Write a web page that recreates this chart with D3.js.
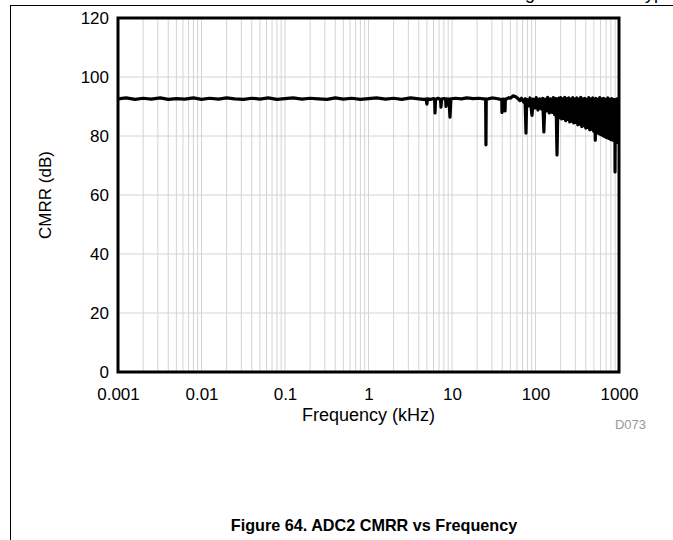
<!DOCTYPE html>
<html>
<head>
<meta charset="utf-8">
<script src="https://cdn.jsdelivr.net/npm/d3@7"></script>
<style>
  html, body { margin: 0; padding: 0; background: #fff; }
  svg { display: block; font-family: "Liberation Sans", Arial, sans-serif; }
</style>
</head>
<body>
<svg id="chart" width="673" height="540"></svg>
<script>
// ---------- data ----------
const freqKHz = [
  0.001, 0.00125, 0.0016, 0.002, 0.0025, 0.0032, 0.004, 0.005, 0.0063, 0.008,
  0.01, 0.0125, 0.016, 0.02, 0.025, 0.032, 0.04, 0.05, 0.063, 0.08,
  0.1, 0.125, 0.16, 0.2, 0.25, 0.32, 0.4, 0.5, 0.63, 0.8,
  1, 1.25, 1.6, 2, 2.5, 3.2, 4, 4.6, 4.9, 5.0, 5.1, 5.5, 6.0, 6.2, 6.26, 6.35,
  6.8, 7.3, 7.38, 7.5, 8.0, 8.4, 8.47, 8.6, 9.2, 9.46, 9.7,
  11, 13, 15, 18, 21, 24, 25.3, 25.5, 25.7, 27, 30, 34, 37, 39.5, 39.7, 40, 41,
  43, 43.2, 43.5, 45, 48, 50, 53.8, 58, 62, 65, 68, 72, 75, 76.9, 78.5,
  82, 86, 90.8, 94, 98, 102, 107, 112, 117, 122, 126, 130, 135, 140, 146,
  152, 158, 164, 170, 176, 181, 186,
  190, 195, 200, 206, 212, 218, 224, 230, 237, 243, 250, 257, 264, 272, 279,
  287, 295, 303, 312, 321, 330, 339, 348, 358, 368, 378, 389, 400, 411, 422,
  434, 446, 459, 472, 485, 498, 512, 520, 527, 541, 556, 572, 588, 604, 621,
  639, 656, 675, 694, 713, 733, 754, 775, 796, 819, 841, 865, 889, 893, 896,
  905, 914, 940, 966, 980, 993, 1000
];
const cmrrDb = [
  92.6, 92.9, 92.4, 92.8, 92.5, 92.9, 92.4, 92.7, 92.5, 92.9,
  92.4, 92.8, 92.5, 92.9, 92.6, 92.4, 92.8, 92.5, 92.9, 92.4,
  92.7, 92.9, 92.5, 92.8, 92.6, 92.4, 92.9, 92.5, 92.8, 92.4,
  92.7, 92.9, 92.5, 92.8, 92.4, 92.9, 92.6, 92.4, 92.5, 90.8, 92.6, 92.4, 92.7, 92.5, 87.8, 92.4,
  92.8, 92.3, 89.8, 92.5, 92.7, 92.4, 90.0, 92.6, 92.5, 86.4, 92.6,
  92.8, 92.6, 92.9, 92.7, 92.8, 92.6, 92.5, 77.0, 92.5, 92.6, 92.9, 92.7, 92.5, 92.4, 88.0, 92.3, 92.5,
  92.4, 88.5, 92.3, 92.6, 93.0, 92.8, 93.6, 93.3, 92.6, 92.0, 92.8, 91.5, 92.6, 81.0, 92.4,
  90.2, 92.9, 87.0, 92.5, 89.5, 93.0, 88.8, 92.6, 89.2, 92.8, 81.4, 92.5, 88.5, 93.1, 87.8,
  92.6, 88.0, 93.0, 87.2, 92.7, 73.6, 92.5,
  92.8, 86.2, 93.0, 85.8, 92.6, 86.0, 93.1, 85.2, 92.7, 85.6, 92.9, 84.8, 92.5, 85.0, 93.0,
  84.4, 92.6, 84.6, 92.9, 83.8, 92.5, 84.0, 93.1, 83.2, 92.6, 83.5, 92.8, 82.7, 92.4, 82.9,
  93.0, 82.1, 92.6, 82.3, 92.9, 81.6, 92.5, 78.6, 92.8, 81.2, 92.4, 80.8, 93.0, 80.5, 92.6,
  80.1, 92.8, 79.8, 92.4, 79.4, 92.9, 79.2, 92.5, 78.8, 92.7, 78.6, 92.4, 78.2, 92.3, 67.8,
  92.0, 78.0, 92.6, 77.8, 92.2, 79.5, 88.0
];
const yTicks = [0, 20, 40, 60, 80, 100, 120];
const xTicks = [0.001, 0.01, 0.1, 1, 10, 100, 1000];
const xTickLabels = ["0.001", "0.01", "0.1", "1", "10", "100", "1000"];
const xTitle = "Frequency (kHz)";
const yTitle = "CMRR (dB)";
const figTitle = "Figure 64. ADC2 CMRR vs Frequency";
const figId = "D073";
const headerText = "Default Settings at Nominal typ";

// ---------- layout ----------
const svg = d3.select("#chart");
const L = 118, R = 619, T = 18, B = 372;
const x = d3.scaleLog().domain([0.001, 1000]).range([L, R]);
const y = d3.scaleLinear().domain([0, 120]).range([B, T]);

// page frame lines
svg.append("line").attr("x1", 10).attr("x2", 673).attr("y1", 5.5).attr("y2", 5.5)
  .attr("stroke", "#000").attr("stroke-width", 1);
svg.append("line").attr("x1", 10.5).attr("x2", 10.5).attr("y1", 5).attr("y2", 540)
  .attr("stroke", "#000").attr("stroke-width", 1);
svg.append("text").attr("x", 664).attr("y", -1.5).attr("text-anchor", "end")
  .attr("font-size", 18).attr("fill", "#000").text(headerText);

// grid
const minor = [];
for (let e = -3; e < 3; e++) for (let m = 1; m <= 9; m++) minor.push(m * Math.pow(10, e));
minor.push(1000);
svg.append("g").selectAll("line").data(minor).join("line")
  .attr("x1", d => x(d)).attr("x2", d => x(d)).attr("y1", T).attr("y2", B)
  .attr("stroke", "#d4d4d4").attr("stroke-width", 1);
svg.append("g").selectAll("line").data(yTicks).join("line")
  .attr("x1", L).attr("x2", R).attr("y1", d => y(d)).attr("y2", d => y(d))
  .attr("stroke", "#d4d4d4").attr("stroke-width", 1);

// data line
svg.append("defs").append("clipPath").attr("id", "clip")
  .append("rect").attr("x", L).attr("y", T).attr("width", R - L).attr("height", B - T);
const pts = freqKHz.map((f, i) => [f, cmrrDb[i]]);
svg.append("path").datum(pts)
  .attr("clip-path", "url(#clip)")
  .attr("fill", "none").attr("stroke", "#000").attr("stroke-width", 3.2)
  .attr("stroke-linejoin", "round")
  .attr("d", d3.line().x(d => x(d[0])).y(d => y(d[1])));

// frame
svg.append("rect").attr("x", L).attr("y", T).attr("width", R - L).attr("height", B - T)
  .attr("fill", "none").attr("stroke", "#000").attr("stroke-width", 3);

// axes
const yAxis = svg.append("g").attr("transform", `translate(${L},0)`)
  .call(d3.axisLeft(y).tickValues(yTicks).tickSize(0).tickPadding(9));
const xAxis = svg.append("g").attr("transform", `translate(0,${B})`)
  .call(d3.axisBottom(x).tickValues(xTicks).tickSize(0).tickPadding(16)
    .tickFormat((d, i) => xTickLabels[i]));
[yAxis, xAxis].forEach(g => {
  g.select(".domain").remove();
  g.selectAll("text").attr("font-size", 17).attr("fill", "#000")
    .attr("font-family", "'Liberation Sans', Arial, sans-serif");
});

// titles
svg.append("text").attr("x", (L + R) / 2).attr("y", 421).attr("text-anchor", "middle")
  .attr("font-size", 18).text(xTitle);
svg.append("text").attr("transform", `translate(51,${(T + B) / 2}) rotate(-90)`)
  .attr("text-anchor", "middle").attr("font-size", 17).text(yTitle);
svg.append("text").attr("x", 646).attr("y", 429).attr("text-anchor", "end")
  .attr("font-size", 13).attr("fill", "#999").text(figId);
svg.append("text").attr("x", 374).attr("y", 531).attr("text-anchor", "middle")
  .attr("font-size", 16.2).attr("font-weight", "bold").text(figTitle);
</script>
</body>
</html>
